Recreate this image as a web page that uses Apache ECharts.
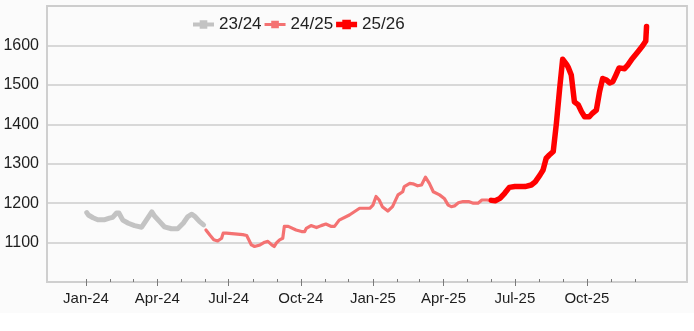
<!DOCTYPE html>
<html>
<head>
<meta charset="utf-8">
<script src="https://cdn.jsdelivr.net/npm/echarts@6/dist/echarts.min.js"></script>
<style>
html,body{margin:0;padding:0;background:#fbfbfb;}
#c{width:694px;height:331px;}
</style>
</head>
<body>
<div id="c"></div>
<script>
// ---- data ----
const seriesNames = ['23/24', '24/25', '25/26'];

const dates2324 = ['2024-01-02','2024-01-04','2024-01-10','2024-01-16','2024-01-25','2024-01-31','2024-02-04','2024-02-09','2024-02-12','2024-02-17','2024-02-24','2024-03-03','2024-03-12','2024-03-18','2024-03-25','2024-03-29','2024-04-04','2024-04-10','2024-04-19','2024-04-27','2024-05-04','2024-05-10','2024-05-15','2024-05-19','2024-05-25','2024-05-30'];
const values2324 = [1176,1170,1163,1158,1158,1162,1164,1175,1175,1157,1149,1143,1139,1157,1178,1166,1153,1140,1135,1135,1149,1166,1172,1166,1153,1145];

const dates2425 = ['2024-06-02','2024-06-07','2024-06-12','2024-06-17','2024-06-22','2024-06-24','2024-06-28','2024-07-19','2024-07-24','2024-07-30','2024-08-03','2024-08-10','2024-08-16','2024-08-20','2024-08-25','2024-08-28','2024-08-31','2024-09-04','2024-09-08','2024-09-10','2024-09-15','2024-09-25','2024-10-02','2024-10-06','2024-10-08','2024-10-14','2024-10-21','2024-10-27','2024-11-02','2024-11-09','2024-11-13','2024-11-19','2024-12-02','2024-12-15','2024-12-21','2024-12-28','2025-01-01','2025-01-05','2025-01-09','2025-01-13','2025-01-20','2025-01-26','2025-02-02','2025-02-08','2025-02-10','2025-02-17','2025-02-21','2025-02-23','2025-02-27','2025-03-04','2025-03-09','2025-03-14','2025-03-19','2025-03-27','2025-04-02','2025-04-07','2025-04-11','2025-04-15','2025-04-20','2025-04-26','2025-05-03','2025-05-09','2025-05-15','2025-05-20','2025-05-26','2025-05-31'];
const values2425 = [1132,1119,1107,1104,1111,1124,1124,1120,1118,1094,1090,1094,1101,1103,1094,1090,1099,1107,1111,1141,1141,1132,1128,1128,1136,1143,1138,1143,1147,1141,1141,1157,1170,1187,1187,1187,1195,1217,1208,1191,1180,1191,1221,1229,1242,1250,1249,1252,1244,1246,1266,1250,1229,1221,1212,1195,1191,1193,1201,1204,1204,1200,1200,1208,1208,1207];

const dates2526 = ['2025-06-01','2025-06-06','2025-06-12','2025-06-18','2025-06-24','2025-07-01','2025-07-14','2025-07-22','2025-07-27','2025-08-02','2025-08-06','2025-08-10','2025-08-14','2025-08-19','2025-08-23','2025-08-27','2025-08-31','2025-09-05','2025-09-07','2025-09-11','2025-09-15','2025-09-20','2025-09-24','2025-09-28','2025-10-04','2025-10-08','2025-10-13','2025-10-17','2025-10-21','2025-10-26','2025-10-30','2025-11-03','2025-11-07','2025-11-11','2025-11-18','2025-11-22','2025-11-28','2025-12-05','2025-12-11','2025-12-15','2025-12-16'];
const values2526 = [1207,1206,1212,1225,1240,1242,1242,1246,1254,1271,1284,1314,1322,1331,1402,1487,1565,1552,1545,1525,1457,1449,1432,1419,1419,1428,1436,1482,1516,1512,1505,1508,1525,1543,1541,1550,1567,1584,1599,1611,1648];

const monthNames = ['Jan','Feb','Mar','Apr','May','Jun','Jul','Aug','Sep','Oct','Nov','Dec'];
const tickMonths = []; // month starts Jan-24 .. Dec-25
for (let y = 2024; y <= 2025; y++) for (let m = 0; m < 12; m++) tickMonths.push([y, m]);
const labelMonths = tickMonths.filter(p => p[1] % 3 === 0);

const yMin = 1000, yMax = 1700, yStep = 100;

// ---- helpers ----
const DAY = 86400000;
const toTs = s => { const a = s.split('-').map(Number); return Date.UTC(a[0], a[1] - 1, a[2]); };
const ts = p => Date.UTC(p[0], p[1], 1);
const pairs = (d, v) => d.map((x, i) => [toTs(x), v[i]]);
const base = Date.UTC(2024, 0, 1);
const xMin = base - 49.7 * DAY;
const xMax = base + 766.6 * DAY;
const fmt = v => { const d = new Date(v); return monthNames[d.getUTCMonth()] + '-' + String(d.getUTCFullYear()).slice(2); };

const iconMid = 'path://M0,3H7V0.5H15V3H22V7H15V9.5H7V7H0Z';
const iconThin = 'path://M0,3.5H7V1H15V3.5H22V6.5H15V9H7V6.5H0Z';
const iconThick = 'path://M0,2H6.5V0H15.5V2H22V8H15.5V10H6.5V8H0Z';

const font = "'Liberation Sans', Arial, sans-serif";

const chart = echarts.init(document.getElementById('c'), null, {renderer: 'canvas'});
chart.setOption({
  backgroundColor: '#fbfbfb',
  animation: false,
  graphic: [{type: 'rect', left: 0, top: 313, shape: {width: 694, height: 18}, style: {fill: '#ffffff'}, silent: true, z: -10}],
  legend: {
    left: 188, top: 11,
    itemWidth: 21, itemHeight: 10, itemGap: 3,
    textStyle: {fontSize: 17, color: '#222', fontFamily: font},
    data: [
      {name: seriesNames[0], icon: iconMid},
      {name: seriesNames[1], icon: iconThin},
      {name: seriesNames[2], icon: iconThick}
    ]
  },
  grid: {left: 47, right: 7, top: 6, bottom: 49, show: true, borderColor: '#cfcfcf', borderWidth: 2, backgroundColor: 'transparent'},
  xAxis: [{
    type: 'value', min: xMin, max: xMax,
    axisLine: {show: true, lineStyle: {color: '#cfcfcf', width: 2}},
    axisTick: {show: true, inside: false, length: 4, lineStyle: {color: '#7a7a7a', width: 1}, customValues: labelMonths.map(ts)},
    axisLabel: {show: true, margin: 9, fontSize: 15, color: '#1e1e1e', fontFamily: font, customValues: labelMonths.map(ts), formatter: fmt},
    splitLine: {show: false}
  }, {
    type: 'value', min: xMin, max: xMax, position: 'bottom',
    axisLine: {show: false},
    axisTick: {show: true, inside: true, length: 3, lineStyle: {color: '#7a7a7a', width: 1}, customValues: tickMonths.map(ts)},
    axisLabel: {show: false},
    splitLine: {show: false}
  }],
  yAxis: {
    type: 'value', min: yMin, max: yMax, interval: yStep,
    axisLine: {show: false}, axisTick: {show: false},
    axisLabel: {fontSize: 16, color: '#1e1e1e', fontFamily: font, margin: 8,
      formatter: v => (v === yMin || v === yMax) ? '' : String(v)},
    splitLine: {show: true, lineStyle: {color: '#cccccc', width: 1.5}}
  },
  series: [
    {name: seriesNames[0], type: 'line', data: pairs(dates2324, values2324), showSymbol: false, color: '#c3c3c3',
      lineStyle: {width: 5, color: '#c3c3c3', cap: 'round', join: 'round'}, z: 2},
    {name: seriesNames[1], type: 'line', data: pairs(dates2425, values2425), showSymbol: false, color: '#f47272',
      lineStyle: {width: 3.2, color: '#f47272', cap: 'round', join: 'round'}, z: 3},
    {name: seriesNames[2], type: 'line', data: pairs(dates2526, values2526), showSymbol: false, color: '#ff0000',
      lineStyle: {width: 5.5, color: '#ff0000', cap: 'round', join: 'round'}, z: 4}
  ]
});
</script>
</body>
</html>
